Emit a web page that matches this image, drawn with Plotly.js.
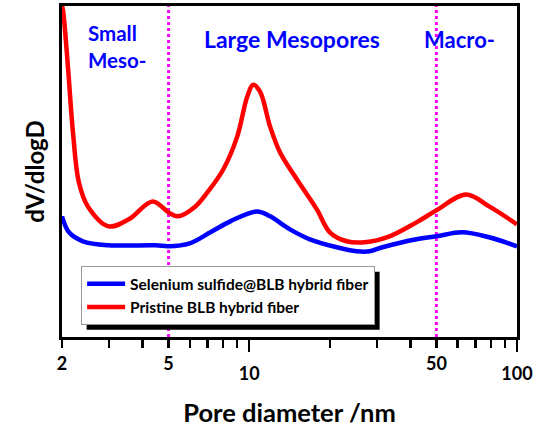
<!DOCTYPE html>
<html>
<head>
<meta charset="utf-8">
<script src="https://cdn.plot.ly/plotly-3.0.1.min.js"></script>
<style>html,body{margin:0;padding:0;background:#fff;}#chart{width:540px;height:432px;}</style>
</head>
<body>
<div id="chart"></div>
<script>
// Pore diameter (nm) and dV/dlogD (arbitrary units)
const diamBlue = [2.0, 2.124, 2.394, 2.99, 4.47, 5.0, 6.0, 7.16, 8.5, 10.71, 11.97, 14.2, 16.85, 21.23, 25.2, 28.17, 31.48, 42.13, 50.0, 62.44, 78.67, 100];
const dvBlue   = [121, 105, 96, 92, 92, 91, 94, 105, 116, 126, 121, 108, 98, 90, 86, 86, 90, 98, 101, 105, 100, 91];
const diamRed  = [2.0, 2.017, 2.105, 2.198, 2.313, 2.498, 2.99, 3.55, 4.36, 5.0, 5.4, 6.3, 6.98, 8.0, 9.02, 9.83, 10.35, 10.98, 11.97, 13.04, 15.08, 17.89, 20.0, 23.13, 26.99, 33.43, 42.13, 50.0, 64.6, 78.7, 100];
const dvRed    = [332, 328, 271, 205, 155, 131, 111, 118, 136, 125, 121, 131, 145, 168, 201, 241, 253, 246, 211, 185, 158, 128, 105, 96, 95, 101, 115, 127, 143, 131, 113];
const seriesNames = ['Selenium sulfide@BLB hybrid fiber', 'Pristine BLB hybrid fiber'];
const labelVals = [2, 5, 50];
const majorVals = [10, 100];
const minorVals = [3, 4, 6, 7, 8, 9, 20, 30, 40, 60, 70, 80, 90];
const boundaries = [5, 50];
const regionLabels = ['Small<br>Meso-', 'Large Mesopores', 'Macro-'];
const regionPos = [2.456, 14.4, 61];

const FONT = 'Lato, "Open Sans", sans-serif';
const xr = [Math.log10(2), Math.log10(100)];

const traces = [
  {x: diamBlue, y: dvBlue, name: seriesNames[0], type: 'scatter', mode: 'lines',
   line: {color: '#0000ff', width: 4.5, shape: 'spline'}},
  {x: diamRed, y: dvRed, name: seriesNames[1], type: 'scatter', mode: 'lines',
   line: {color: '#ff0000', width: 4.5, shape: 'spline'}},
  // carrier for the long major ticks axis (invisible)
  {x: majorVals, y: [null, null], xaxis: 'x2', yaxis: 'y', type: 'scatter', mode: 'lines',
   showlegend: false, hoverinfo: 'skip'}
];

const shapes = boundaries.map(b => ({
  type: 'line', xref: 'x', yref: 'paper', x0: b, x1: b, y0: 0, y1: 1,
  line: {color: '#ff00ff', width: 3, dash: 'dot'}, layer: 'below'
}));

const annFont = s => ({family: FONT, size: s, color: '#0000ff', weight: 'bold'});
const annotations = [
  {text: regionLabels[0], x: Math.log10(regionPos[0]), y: 0.962, xref: 'x', yref: 'paper', showarrow: false,
   align: 'left', xanchor: 'left', yanchor: 'top', font: annFont(20.5)},
  {text: regionLabels[1], x: Math.log10(regionPos[1]), y: 0.9, xref: 'x', yref: 'paper', showarrow: false,
   xanchor: 'center', yanchor: 'middle', font: annFont(23)},
  {text: regionLabels[2], x: Math.log10(regionPos[2]), y: 0.9, xref: 'x', yref: 'paper', showarrow: false,
   xanchor: 'center', yanchor: 'middle', font: annFont(22)}
];

const layout = {
  width: 540, height: 432,
  margin: {l: 62, r: 23, t: 6, b: 95},
  paper_bgcolor: '#fff', plot_bgcolor: '#fff',
  showlegend: true,
  legend: {x: 0.042, y: 0.214, xanchor: 'left', yanchor: 'top', bgcolor: '#fff',
    bordercolor: '#999', borderwidth: 1, itemwidth: 38,
    font: {family: FONT, size: 15.5, color: '#000', weight: 'bold'}},
  xaxis: {type: 'log', range: xr, showgrid: false, zeroline: false,
    showline: true, mirror: true, linecolor: '#000', linewidth: 3,
    tickmode: 'array', tickvals: labelVals, ticktext: labelVals.map(String),
    ticks: 'outside', ticklen: 8, tickwidth: 2.5, tickcolor: '#000',
    tickfont: {family: FONT, size: 18, color: '#000', weight: 'bold'},
    minor: {tickmode: 'array', tickvals: minorVals, ticks: 'outside', ticklen: 8, tickwidth: 2.5, tickcolor: '#000', showgrid: false},
    title: {text: 'Pore diameter /nm', font: {family: FONT, size: 25.5, color: '#000', weight: 'bold'}, standoff: 32}},
  xaxis2: {type: 'log', range: xr, overlaying: 'x', anchor: 'y', side: 'bottom',
    showgrid: false, zeroline: false, showline: false,
    tickmode: 'array', tickvals: majorVals, ticktext: majorVals.map(String),
    ticks: 'outside', ticklen: 14, tickwidth: 2.5, tickcolor: '#000', ticklabelstandoff: 6,
    tickfont: {family: FONT, size: 18, color: '#000', weight: 'bold'}},
  yaxis: {range: [0, 332], showgrid: false, zeroline: false, showticklabels: false, ticks: '',
    showline: true, mirror: true, linecolor: '#000', linewidth: 3,
    title: {text: 'dV/dlogD', font: {family: FONT, size: 24, color: '#000', weight: 'bold'}, standoff: 8}},
  shapes: shapes,
  annotations: annotations
};

Plotly.newPlot('chart', traces, layout, {staticPlot: true, displayModeBar: false}).then(gd => {
  // drop shadow behind the legend box, offset 5px right/down
  const bg = gd.querySelector('.legend .bg');
  if (!bg) return;
  const r = bg.getBoundingClientRect();
  const c = gd.getBoundingClientRect();
  const s = gd._fullLayout._size;
  const px = v => (v - s.l) / s.w;
  const py = v => 1 - (v - s.t) / s.h;
  const left = r.left - c.left, top = r.top - c.top;
  const shadow = {type: 'rect', xref: 'paper', yref: 'paper',
    x0: px(left + 5), x1: px(left + r.width + 5), y0: py(top + r.height + 5), y1: py(top + 5),
    fillcolor: '#000', line: {width: 0}, layer: 'above'};
  return Plotly.relayout(gd, {shapes: shapes.concat([shadow])});
});
</script>
</body>
</html>
